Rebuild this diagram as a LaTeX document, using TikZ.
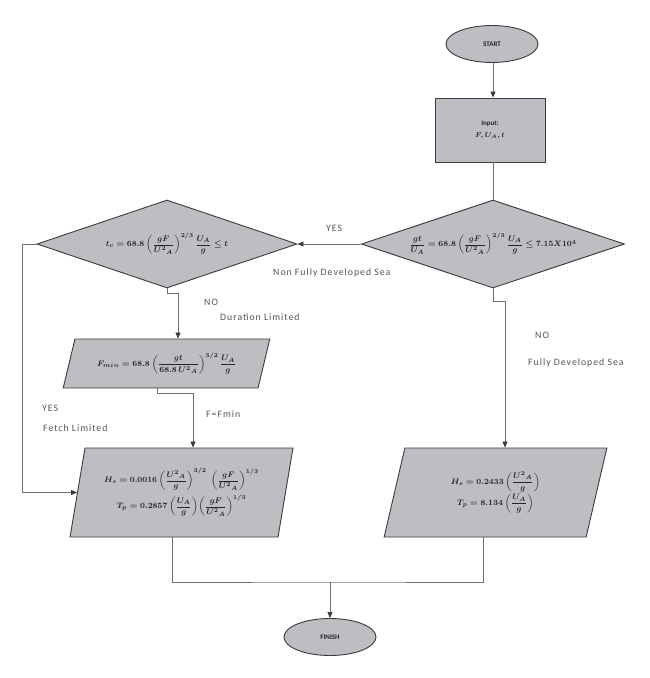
\documentclass[tikz,border=0pt]{standalone}
\usepackage{amsmath}
\usepackage{fontspec}
\setmainfont{Carlito}
\newfontfamily\labfont[LetterSpace=10]{Carlito}
\usetikzlibrary{shapes.geometric,arrows.meta,calc}
\definecolor{boxfill}{HTML}{BEBEC2}
\definecolor{outl}{HTML}{3C3C3C}
\definecolor{linec}{HTML}{707070}
\definecolor{labc}{HTML}{555555}
\newcommand{\Ua}{U^{2}{}_{A}}
\tikzset{
  box/.style={draw=outl, fill=boxfill, line width=0.9pt, inner sep=0pt, text=black!85},
  term/.style={box, ellipse, minimum width=92pt, minimum height=37pt, font=\fontsize{7}{8}\selectfont\bfseries},
  inbox/.style={box, rectangle, minimum width=110pt, minimum height=64pt, font=\fontsize{7}{9}\selectfont\bfseries},
  dec/.style={box, diamond, aspect=3, minimum width=263pt, minimum height=88pt},
  para/.style={box, trapezium, trapezium left angle=76, trapezium right angle=104, trapezium stretches=true},
  fml/.style={font=\fontsize{7.9}{9}\selectfont\boldmath},
  conn/.style={draw=linec, line width=0.9pt},
  arr/.style={conn, -{Triangle[length=6pt,width=5pt,color=outl]}},
  lab/.style={font=\labfont\fontsize{9.8}{11}\selectfont, text=labc, anchor=west, inner sep=0pt}
}
\begin{document}
\begin{tikzpicture}[x=1pt,y=-1pt]
\path[fill=white] (0,0) rectangle (650,678);
\useasboundingbox (0,0) rectangle (650,678);

\node[term] (start) at (492,44) {START};
\node[inbox] (inp) at (490,130) {\begin{tabular}{@{}c@{}}Input:\\[3pt]\boldmath$F, U_A, t$\end{tabular}};
\node[dec, fml] (rd) at (493,244) {$\dfrac{gt}{U_A} = 68.8\left(\dfrac{gF}{\Ua}\right)^{2/3}\dfrac{U_A}{g} \le 7.15X10^{4}$};
\node[dec, fml, minimum width=260pt] (ld) at (167,244) {$t_c = 68.8\left(\dfrac{gF}{\Ua}\right)^{2/3}\dfrac{U_A}{g} \le t$};
\node[para, fml, trapezium left angle=67, trapezium right angle=113, minimum width=207pt, minimum height=49pt] (fmin) at (166.5,363.5)
  {$F_{min} = 68.8\left(\dfrac{gt}{68.8\,\Ua}\right)^{3/2}\dfrac{U_A}{g}$};
\node[para, fml, minimum width=223pt, minimum height=89pt] (lhs) at (181.5,492.5)
  {\begin{tabular}{@{}c@{}}$H_s = 0.0016\left(\dfrac{\Ua}{g}\right)^{3/2}\;\left(\dfrac{gF}{\Ua}\right)^{1/3}$\\[10pt]
   $T_p = 0.2857\left(\dfrac{U_A}{g}\right)\!\left(\dfrac{gF}{\Ua}\right)^{1/3}$\end{tabular}};
\node[para, fml, minimum width=223pt, minimum height=89pt] (rhs) at (495.5,492.5)
  {\begin{tabular}{@{}c@{}}$H_s = 0.2433\left(\dfrac{\Ua}{g}\right)$\\[7pt]
   $T_p = 8.134\left(\dfrac{U_A}{g}\right)$\end{tabular}};
\node[term] (finish) at (330,637) {FINISH};

\coordinate (j) at (330,582);

% connectors
\draw[arr] ($(start.south)+(1,0)$) -- ($(inp.north)+(3,0)$);
\draw[conn] ($(inp.south)+(3,0)$) -- (rd.north);
\draw[arr] (rd.west) -- (ld.east);
\draw[arr] (ld.south) -- ++(0,5) -| ($(fmin.north)+(11.5,0)$);
\draw[arr] ($(fmin.south)+(-9.5,0)$) -- ++(0,5) -| ($(lhs.north)+(11.5,0)$);
\draw[arr] (ld.west) -- ++(-14,0) |- (lhs.west);
\draw[arr] (rd.south) -- ++(0,13) -| ($(rhs.north)+(9.5,0)$);
\draw[conn] ($(lhs.south)+(-9.5,0)$) |- (j) -| ($(rhs.south)+(-12.5,0)$);
\draw[arr] (j) -- (finish.north);

% labels
\node[lab] (l1) at (326,228) {YES};
\node[lab] (l2) at (273,273) {Non Fully Developed Sea};
\node[lab] (l3) at (204,302) {NO};
\node[lab] (l4) at (220,317) {Duration Limited};
\node[lab] (l5) at (206,414) {F=Fmin};
\node[lab] (l6) at (42,408) {YES};
\node[lab] (l7) at (43,428) {Fetch Limited};
\node[lab] (l8) at (535,335) {NO};
\node[lab] (l9) at (528,363) {Fully Developed Sea};
\end{tikzpicture}
\end{document}
